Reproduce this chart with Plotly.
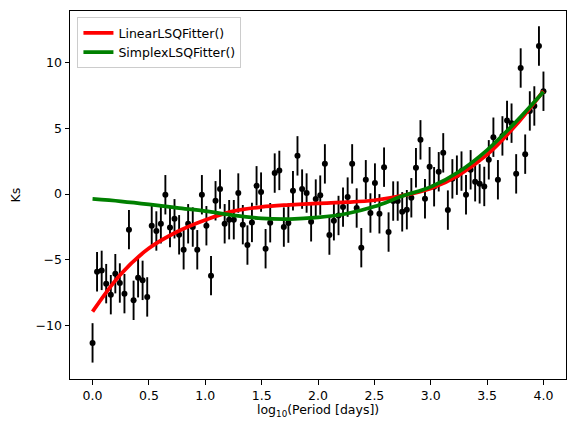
import plotly.graph_objects as go

# ---------------------------------------
# Data
# ---------------------------------------
log_period = [
    0.000, 0.040, 0.081, 0.121, 0.162, 0.202, 0.242, 0.283, 0.323, 0.364,
    0.404, 0.444, 0.485, 0.525, 0.566, 0.606, 0.646, 0.687, 0.727, 0.768,
    0.808, 0.848, 0.889, 0.929, 0.970, 1.010, 1.051, 1.091, 1.131, 1.172,
    1.212, 1.253, 1.293, 1.333, 1.374, 1.414, 1.455, 1.495, 1.535, 1.576,
    1.616, 1.657, 1.697, 1.737, 1.778, 1.818, 1.859, 1.899, 1.939, 1.980,
    2.020, 2.061, 2.101, 2.141, 2.182, 2.222, 2.263, 2.303, 2.343, 2.384,
    2.424, 2.465, 2.505, 2.545, 2.586, 2.626, 2.667, 2.707, 2.747, 2.788,
    2.828, 2.869, 2.909, 2.949, 2.990, 3.030, 3.071, 3.111, 3.152, 3.192,
    3.232, 3.273, 3.313, 3.354, 3.394, 3.434, 3.475, 3.515, 3.556, 3.596,
    3.636, 3.677, 3.717, 3.758, 3.798, 3.838, 3.879, 3.919, 3.960, 4.000,
]
ks = [
    -11.33, -5.91, -5.81, -6.82, -7.66, -6.06, -6.77, -7.58, -2.71, -8.09,
    -6.37, -6.57, -7.83, -2.41, -2.81, -2.26, -0.05, -2.54, -1.88, -3.10,
    -4.24, -2.26, -2.51, -4.24, -0.05, -2.41, -6.21, -0.51, 0.38, -2.26,
    -1.95, -1.95, 0.08, -2.33, -3.88, -2.16, 0.63, 0.15, -4.16, -2.18,
    1.60, 1.80, -2.51, -2.21, 0.25, 2.91, 0.38, 0.08, -2.11, -0.38,
    -0.08, 2.30, -3.12, -2.03, -1.63, -0.99, -0.23, 2.30, -1.06, -4.08,
    1.09, -1.44, 0.84, -1.50, 2.05, -2.89, -0.53, -0.53, -1.35, -1.19,
    -0.28, 2.00, 4.13, -0.36, 2.08, 0.56, 1.70, 3.14, -1.22, 1.16,
    1.44, 1.75, -0.05, 1.85, 0.94, 0.78, 0.58, 2.61, 4.33, 1.09,
    4.43, 5.60, 5.40, 1.54, 9.60, 3.04, 6.33, 6.71, 11.28, 7.83,
]
ks_err = 1.5

# fitted model curves, sampled along x
fit_x = [0.0, 0.25, 0.5, 0.75, 1.0, 1.25, 1.5, 1.75, 2.0,
         2.25, 2.5, 2.75, 3.0, 3.25, 3.5, 3.75, 4.0]
linear_fit = [-8.95, -6.1, -4.13, -2.87, -1.97, -1.3, -0.98, -0.82, -0.7,
              -0.62, -0.47, -0.12, 0.42, 1.45, 3.0, 5.2, 7.85]
simplex_fit = [-0.37, -0.55, -0.78, -1.05, -1.3, -1.62, -1.85, -1.9, -1.78,
               -1.5, -0.95, -0.15, 0.55, 1.7, 3.35, 5.45, 7.8]

x_ticks = [0.0, 0.5, 1.0, 1.5, 2.0, 2.5, 3.0, 3.5, 4.0]
y_ticks = [-10, -5, 0, 5, 10]

FONT = "DejaVu Sans"

fig = go.Figure()

# data points with error bars
fig.add_trace(go.Scatter(
    x=log_period, y=ks, mode="markers",
    marker=dict(color="black", size=6),
    error_y=dict(type="constant", value=ks_err, color="black",
                 thickness=1.9, width=0),
    showlegend=False,
))

# model fits
fig.add_trace(go.Scatter(
    x=fit_x, y=linear_fit, mode="lines", line_shape="spline",
    line=dict(color="#ff0000", width=3.75), name="LinearLSQFitter()",
))
fig.add_trace(go.Scatter(
    x=fit_x, y=simplex_fit, mode="lines", line_shape="spline",
    line=dict(color="#008000", width=3.75), name="SimplexLSQFitter()",
))

axis_style = dict(
    showline=True, linecolor="black", linewidth=1, mirror=True,
    ticks="outside", ticklen=4.5, tickwidth=1, tickcolor="black",
    showgrid=False, zeroline=False,
    tickfont=dict(family=FONT, size=12.5, color="black"),
)

fig.update_xaxes(range=[-0.2, 4.2], tickvals=x_ticks, tickformat=".1f",
                 **axis_style)
fig.update_yaxes(range=[-14.08, 13.94], tickvals=y_ticks, **axis_style)

# the page body adds an 8px offset, so the figure is 8px smaller
fig.update_layout(
    width=567, height=425,
    margin=dict(l=61.5, r=9.2, t=3, b=53.5),
    paper_bgcolor="white", plot_bgcolor="white",
    font=dict(family=FONT, size=12.5, color="black"),
    legend=dict(
        x=0.015, y=0.983, xanchor="left", yanchor="top",
        bgcolor="rgba(255,255,255,0.8)", bordercolor="#cccccc", borderwidth=1,
        font=dict(family=FONT, size=12.5, color="black"),
        tracegroupgap=2,
    ),
    annotations=[
        dict(text="log<sub>10</sub>(Period [days])", xref="paper", yref="paper",
             x=0.5, y=-0.086, xanchor="center", yanchor="middle",
             showarrow=False, font=dict(family=FONT, size=12.5)),
        dict(text="Ks", xref="paper", yref="paper", x=-0.11, y=0.5,
             xanchor="center", yanchor="middle", textangle=-90,
             showarrow=False, font=dict(family=FONT, size=12.5)),
    ],
)

fig.write_html("out.html")
